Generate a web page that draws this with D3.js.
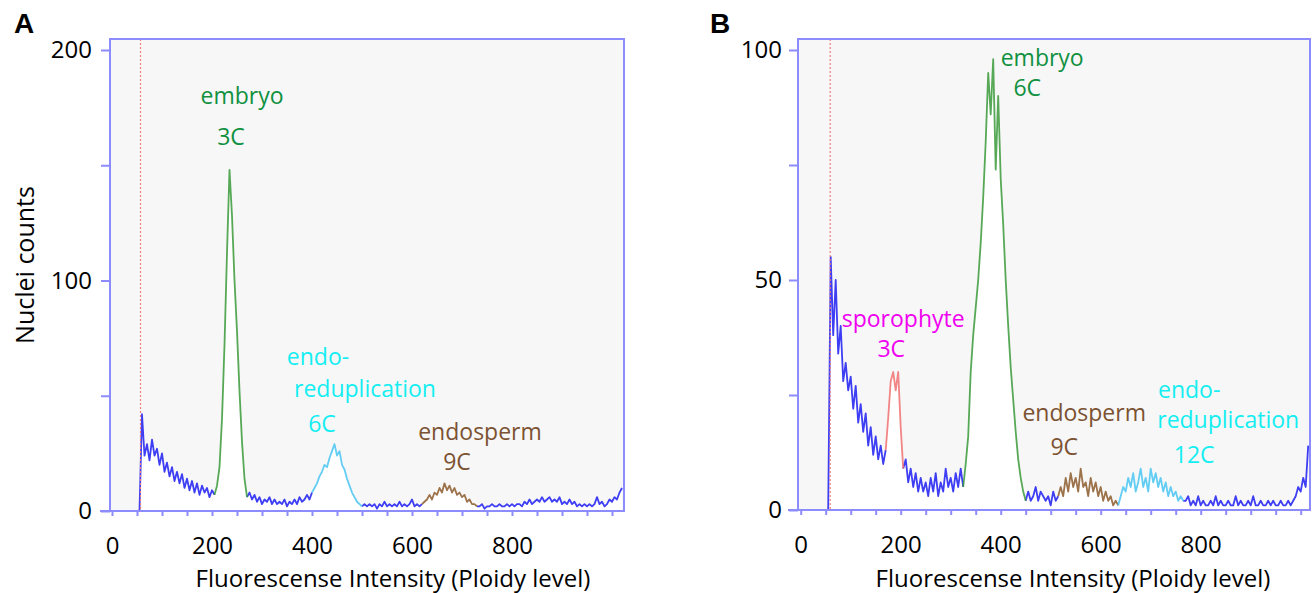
<!DOCTYPE html>
<html lang="en">
<head>
<meta charset="UTF-8">
<title>Ploidy histograms</title>
<script src="https://d3js.org/d3.v7.min.js"></script>
<style>
    body { margin: 0; background: #fff; }
    svg text { font-family: "Open Sans", sans-serif; }
</style>
</head>
<body>
<svg width="1314" height="593"></svg>
<script>
    // channel step of the histogram readings
    const chanStep = 5;

    // panel A : counts per channel, from channel 55
    const startA = 55;
    const countsA = [
        0, 42, 24, 29, 22, 31, 24, 27, 20, 25,
        17, 21, 15, 19, 13, 17, 12, 16, 10, 14,
        9, 13, 8, 12, 7, 11, 8, 10, 6, 9,
        7, 11, 19, 40, 72, 112, 148, 128, 100, 78,
        52, 30, 14, 6, 8, 5, 7, 4, 6, 3,
        5, 4, 6, 3, 5, 3, 4, 3, 5, 2,
        4, 3, 5, 3, 6, 4, 5, 7, 5, 8,
        10, 12, 15, 17, 20, 19, 23, 26, 29, 24,
        26, 20, 18, 14, 11, 8, 6, 4, 3, 2,
        3, 2, 3, 2, 3, 1, 3, 2, 4, 2,
        3, 2, 3, 2, 4, 2, 3, 2, 3, 5,
        2, 3, 2, 3, 4, 5, 7, 5, 8, 7,
        10, 8, 12, 9, 11, 8, 10, 7, 8, 6,
        7, 4, 5, 3, 3, 2, 2, 3, 1, 2,
        2, 3, 2, 2, 3, 2, 2, 3, 2, 3,
        2, 3, 3, 2, 4, 3, 5, 3, 4, 5,
        4, 6, 4, 5, 6, 4, 5, 4, 6, 3,
        4, 3, 5, 3, 4, 2, 3, 2, 3, 2,
        3, 2, 3, 6, 3, 4, 2, 3, 5, 4,
        6, 5, 8, 10
    ];
    // gates (channel ranges) in panel A: embryo 3C, endoreduplication 6C, endosperm 9C
    const gateLoA = [205, 400, 620];
    const gateHiA = [270, 500, 730];
    const thresholdA = 57;

    // panel B
    const startB = 55;
    const countsB = [
        0, 55, 38, 50, 34, 40, 28, 32, 26, 29,
        22, 27, 19, 23, 17, 21, 14, 18, 12, 16,
        11, 14, 10, 13, 20, 28, 30, 26, 30, 18,
        9, 11, 6, 9, 5, 8, 4, 7, 4, 6,
        3, 7, 4, 8, 3, 6, 4, 9, 5, 7,
        4, 8, 5, 9, 5, 10, 16, 30, 38, 44,
        50, 58, 68, 80, 95, 86, 98, 74, 90, 72,
        62, 50, 40, 31, 24, 17, 11, 7, 4, 2,
        4, 2, 3, 5, 2, 4, 3, 2, 3, 1,
        4, 2, 3, 5, 3, 7, 4, 8, 5, 7,
        4, 9, 5, 6, 3, 7, 4, 6, 3, 5,
        2, 4, 2, 3, 1, 2, 1, 3, 5, 4,
        7, 5, 8, 4, 6, 9, 5, 7, 4, 9,
        6, 8, 5, 7, 4, 6, 3, 5, 3, 4,
        2, 3, 2, 2, 3, 1, 2, 1, 3, 1,
        2, 1, 1, 2, 1, 3, 1, 2, 1, 1,
        2, 1, 1, 3, 1, 2, 1, 1, 2, 1,
        3, 1, 1, 2, 1, 1, 2, 1, 2, 1,
        1, 2, 1, 1, 2, 1, 2, 3, 5, 4,
        7, 5, 14
    ];
    // gates in panel B: sporophyte 3C, embryo 6C, endosperm 9C, endoreduplication 12C
    const gateLoB = [170, 325, 515, 635];
    const gateHiB = [205, 450, 635, 765];
    const thresholdB = 59;

    // axis ticks
    const xTicks = d3.range(0, 1001, 50);
    const xLabels = [0, 200, 400, 600, 800];
    const yTicksA = [0, 50, 100, 150, 200];
    const yLabelsA = [0, 100, 200];
    const yTicksB = [0, 25, 50, 75, 100];
    const yLabelsB = [0, 50, 100];

    // peak annotations (placed at channel / count)
    const annTextA = ["embryo", "3C", "endo-", "reduplication", "6C", "endosperm", "9C"];
    const annChanA = [260, 238, 412, 506, 420, 736, 690];
    const annCountA = [176.6, 158.8, 63.4, 49.5, 34.3, 30.8, 17.8];
    const annKindA = ["embryo", "embryo", "endo", "endo", "endo", "endosperm", "endosperm"];

    const annTextB = ["embryo", "6C", "sporophyte", "3C", "endosperm", "9C", "endo-", "reduplication", "12C"];
    const annChanB = [483, 453, 205, 181, 567, 527, 777, 855, 787];
    const annCountB = [96.5, 90, 39.8, 33.3, 19.3, 12, 24.4, 17.8, 10.2];
    const annKindB = ["embryo", "embryo", "sporophyte", "sporophyte", "endosperm", "endosperm", "endo", "endo", "endo"];

    // styles
    const frameColor = "#8c8cff";
    const blueLine = "#1c1cf2";
    const lineColor = {embryo: "#3a9a3a", endo: "#48c4f2", endosperm: "#8b5a2b", sporophyte: "#f07070"};
    const textColor = {embryo: "#10913f", endo: "#14eef2", endosperm: "#7b5232", sporophyte: "#f000f0"};
    const gateKindA = ["embryo", "endo", "endosperm"];
    const gateKindB = ["sporophyte", "embryo", "endosperm", "endo"];

    let svg = d3.select("svg");

    function drawPanel(p) {
        let g = svg.append("g");
        let x = d3.scaleLinear().domain(p.xDomain).range(p.xRange);
        let y = d3.scaleLinear().domain(p.yDomain).range(p.yRange);
        let pts = p.counts.map((v, i) => ({ch: p.start + i * chanStep, v: v}));
        let lastCh = pts[pts.length - 1].ch;

        g.append("rect")
            .attr("x", p.left).attr("y", p.top)
            .attr("width", p.right - p.left).attr("height", p.bottom - p.top)
            .attr("fill", "#f7f7f7");

        g.append("clipPath").attr("id", "clip" + p.name)
            .append("rect")
            .attr("x", p.left).attr("y", p.top)
            .attr("width", p.right - p.left).attr("height", p.bottom - p.top);

        let plot = g.append("g").attr("clip-path", `url(#clip${p.name})`);

        // white area under the histogram
        plot.append("path").datum(pts)
            .attr("d", d3.area().x(d => x(d.ch)).y0(y(0)).y1(d => y(d.v)))
            .attr("fill", "#fff");

        let line = d3.line().x(d => x(d.ch)).y(d => y(d.v));
        function seg(lo, hi, color) {
            let s = pts.filter(d => d.ch >= lo && d.ch <= hi);
            if (s.length < 2) return;
            plot.append("path").datum(s)
                .attr("d", line)
                .attr("fill", "none")
                .attr("stroke", color)
                .attr("stroke-width", 1.8)
                .attr("stroke-linejoin", "round")
                .attr("stroke-opacity", 0.85);
        }
        // ungated parts in blue
        let bounds = [p.start];
        p.gateLo.forEach((lo, i) => { bounds.push(lo, p.gateHi[i]); });
        bounds.push(lastCh);
        for (let i = 0; i < bounds.length; i += 2) seg(bounds[i], bounds[i + 1], blueLine);
        p.gateLo.forEach((lo, i) => seg(lo, p.gateHi[i], lineColor[p.gateKind[i]]));

        // threshold
        plot.append("line")
            .attr("x1", x(p.threshold)).attr("x2", x(p.threshold))
            .attr("y1", p.top).attr("y2", p.bottom)
            .attr("stroke", "#f07c7c").attr("stroke-width", 1.2)
            .attr("stroke-dasharray", "2,2");

        // frame
        g.append("rect")
            .attr("x", p.left).attr("y", p.top)
            .attr("width", p.right - p.left).attr("height", p.bottom - p.top)
            .attr("fill", "none").attr("stroke", frameColor).attr("stroke-width", 2);

        // y axis
        let ya = g.append("g")
            .attr("transform", `translate(${p.left},0)`)
            .call(d3.axisLeft(y).tickValues(p.yTicks).tickSize(9)
                .tickFormat(d => p.yLabels.includes(d) ? d : ""));
        ya.select(".domain").remove();
        ya.selectAll(".tick line").attr("stroke", frameColor).attr("stroke-width", 2);
        ya.selectAll(".tick text")
            .attr("x", p.yLabelX - p.left)
            .attr("fill", "#000")
            .style("font-size", "24px")
            .style("font-family", "'Open Sans', sans-serif");

        // x axis
        let xa = g.append("g")
            .attr("transform", `translate(0,${p.bottom})`)
            .call(d3.axisBottom(x).tickValues(xTicks).tickSize(5)
                .tickFormat(d => xLabels.includes(d) ? d : ""));
        xa.select(".domain").remove();
        xa.append("line")
            .attr("x1", p.left - 10).attr("x2", p.right)
            .attr("stroke", frameColor).attr("stroke-width", 2);
        xa.selectAll(".tick line").attr("stroke", frameColor).attr("stroke-width", 2);
        xa.selectAll(".tick text")
            .attr("y", 26)
            .attr("fill", "#000")
            .style("font-size", "24px")
            .style("font-family", "'Open Sans', sans-serif");

        // annotations
        g.selectAll("text.ann")
            .data(p.annText)
            .enter().append("text")
            .attr("class", "ann")
            .attr("x", (d, i) => x(p.annChan[i]))
            .attr("y", (d, i) => y(p.annCount[i]))
            .attr("text-anchor", "middle")
            .attr("fill", (d, i) => textColor[p.annKind[i]])
            .style("font-size", "23px")
            .text(d => d);

        // x title
        g.append("text")
            .attr("x", p.titleX).attr("y", 587)
            .attr("text-anchor", "middle")
            .style("font-size", "24px")
            .text("Fluorescense Intensity (Ploidy level)");

        // panel letter
        g.append("text")
            .attr("x", p.letterX).attr("y", 33)
            .style("font-family", "'Liberation Sans', Arial, sans-serif")
            .style("font-weight", "bold")
            .style("font-size", "28px")
            .text(p.name);
    }

    drawPanel({
        name: "A", left: 110, right: 624, top: 39, bottom: 511,
        xDomain: [0, 1024], xRange: [112, 624],
        yDomain: [0, 200], yRange: [511, 50],
        counts: countsA, start: startA,
        gateLo: gateLoA, gateHi: gateHiA, gateKind: gateKindA,
        threshold: thresholdA,
        yTicks: yTicksA, yLabels: yLabelsA, yLabelX: 92,
        annText: annTextA, annChan: annChanA, annCount: annCountA, annKind: annKindA,
        titleX: 393, letterX: 14
    });

    drawPanel({
        name: "B", left: 798, right: 1310, top: 39, bottom: 510,
        xDomain: [0, 1019], xRange: [800.7, 1310.2],
        yDomain: [0, 100], yRange: [510, 50],
        counts: countsB, start: startB,
        gateLo: gateLoB, gateHi: gateHiB, gateKind: gateKindB,
        threshold: thresholdB,
        yTicks: yTicksB, yLabels: yLabelsB, yLabelX: 782,
        annText: annTextB, annChan: annChanB, annCount: annCountB, annKind: annKindB,
        titleX: 1073, letterX: 710
    });

    // y title (panel A only)
    svg.append("text")
        .attr("transform", "translate(34,265) rotate(-90)")
        .attr("text-anchor", "middle")
        .style("font-size", "25px")
        .text("Nuclei counts");
</script>
</body>
</html>
